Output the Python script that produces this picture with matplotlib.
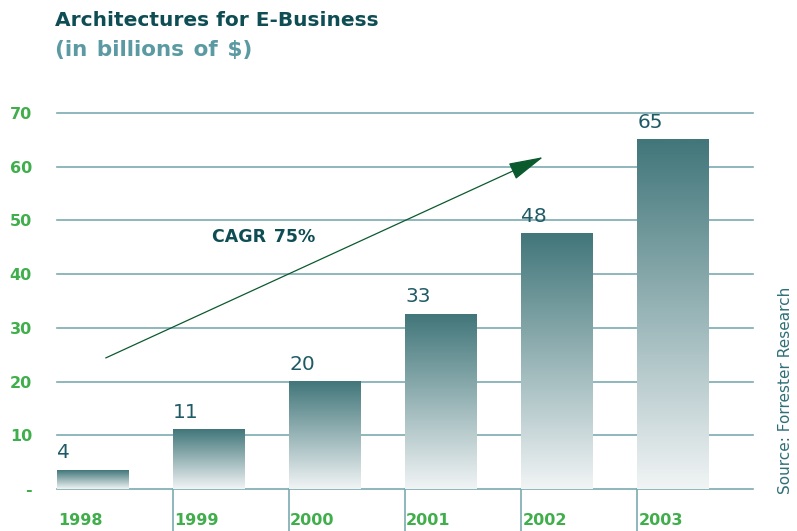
import matplotlib.pyplot as plt
import numpy as np
from matplotlib.colors import LinearSegmentedColormap

# data
years = ["1998", "1999", "2000", "2001", "2002", "2003"]
values = [3.5, 11, 20, 32.5, 47.5, 65]     # drawn bar heights
labels = ["4", "11", "20", "33", "48", "65"]  # printed values
yticks = [0, 10, 20, 30, 40, 50, 60, 70]
ytick_labels = ["-", "10", "20", "30", "40", "50", "60", "70"]

green = "#3fae4b"
teal_dark = "#0d4d53"
grid_col = "#7aaab0"

fig = plt.figure(figsize=(7.97, 5.31), dpi=100)
ax = fig.add_axes([0.0715, 0.0791, 0.8735, 0.708])

width = 0.62
x = np.arange(len(years))
cmap = LinearSegmentedColormap.from_list("bar", ["#f1f4f5", "#41767a"])
grad = np.linspace(0, 1, 256).reshape(-1, 1)

for xi, v, lab in zip(x, values, labels):
    left = xi - width / 2
    ax.imshow(grad, extent=[left, left + width, 0, v], origin="lower",
              cmap=cmap, aspect="auto", zorder=3)
    ax.text(left, v + 1.5, lab, ha="left", va="bottom", fontsize=14.5,
            color="#1f5b66", zorder=4)

ax.set_xlim(-width / 2, 5.69)
ax.set_ylim(0, 70)

for yv in yticks:
    ax.axhline(yv, color=grid_col, lw=1.2, zorder=1, clip_on=False)

# separators under the axis
for xi in x[1:]:
    ax.plot([xi - width / 2, xi - width / 2], [0, -8], color=grid_col,
            lw=1.2, clip_on=False)

for xi, yr in zip(x, years):
    ax.text(xi - width / 2 + 0.01, -5.8, yr, ha="left", va="center",
            fontsize=11.5, fontweight="bold", color=green)

ax.set_yticks(yticks)
ax.set_yticklabels(ytick_labels, fontsize=11.5, fontweight="bold", color=green)
ax.tick_params(axis="y", length=0, pad=18)
ax.set_xticks([])
for s in ax.spines.values():
    s.set_visible(False)

# growth arrow
ax.annotate("", xy=(3.88, 61.8), xytext=(0.11, 24.4),
            arrowprops=dict(arrowstyle="-|>,head_length=2.2,head_width=0.55",
                            color="#0b5a2e", lw=0.9, shrinkA=0, shrinkB=0))
ax.text(1.03, 47, "CAGR\u200a 75%", fontsize=12.5, fontweight="bold",
        color=teal_dark, ha="left", va="center")

fig.text(0.069, 0.962, "Architectures for E-Business", fontsize=14.5,
         fontweight="bold", color=teal_dark, ha="left", va="center")
fig.text(0.069, 0.905, "(in\u200a billions\u200a of\u200a $)", fontsize=15.5,
         fontweight="bold", color="#5c9aa3", ha="left", va="center")
fig.text(0.985, 0.265, "Source: Forrester Research", fontsize=11,
         color="#2f6f78", rotation=90, ha="center", va="center")

fig.savefig("out.png", dpi=100)
